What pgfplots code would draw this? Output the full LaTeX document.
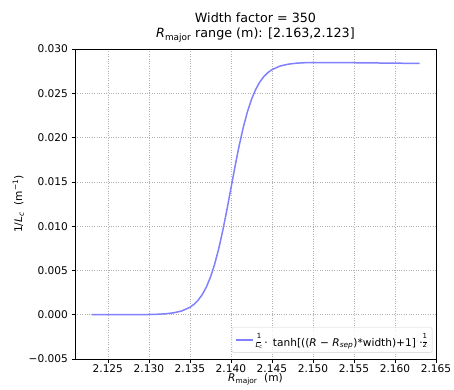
\documentclass[border=0pt]{standalone}
\usepackage{pgfplots}
\pgfplotsset{compat=1.18}
\usepackage{fontspec}
\setmainfont{DejaVu Sans}
\definecolor{curve}{RGB}{128,128,255}
\newcommand{\sfrac}[2]{\raisebox{0.55ex}{\scriptsize\begin{tabular}{@{}c@{}}#1\\[-3.2pt]\rule{0.55em}{0.4pt}\\[-3.4pt]#2\end{tabular}}}
\begin{document}
\begin{tikzpicture}
\begin{axis}[
  scale only axis,
  width=361pt, height=310pt,
  xmin=2.121, xmax=2.165,
  ymin=-0.005, ymax=0.030,
  xtick={2.125,2.130,2.135,2.140,2.145,2.150,2.155,2.160,2.165},
  xticklabels={2.125,2.130,2.135,2.140,2.145,2.150,2.155,2.160,2.165},
  ytick={-0.005,0,0.005,0.010,0.015,0.020,0.025,0.030},
  yticklabels={−0.005,0.000,0.005,0.010,0.015,0.020,0.025,0.030},
  scaled ticks=false,
  tick pos=left,
  tick align=outside,
  major tick length=3.5pt,
  tick style={black, line width=0.6pt},
  axis line style={black, line width=0.8pt},
  ticklabel style={font=\fontsize{10.6}{12}\selectfont},
  xticklabel style={yshift=1pt},
  grid=major,
  major grid style={gray!60, dotted, line width=0.6pt},
  title style={align=center, font=\fontsize{12.7}{15}\selectfont, yshift=-3pt},
  title={Width factor = 350\\\textit{R}\textsubscript{major} range (m): [2.163,2.123]},
  xlabel={\textit{R}\textsubscript{major}\ \ (m)},
  ylabel={1/\textit{L}\textsubscript{\textit{c}}\ \ (m\textsuperscript{−1})},
  label style={font=\fontsize{10.6}{12}\selectfont},
  xlabel style={yshift=6pt},
  ylabel style={yshift=-2pt},
  legend style={font=\fontsize{10.6}{12}\selectfont, draw=gray!35, rounded corners=2pt, inner xsep=3pt, inner ysep=3pt, fill=white, fill opacity=0.8, text opacity=1, at={(0.99,0.02)}, anchor=south east},
  legend cell align=left,
]
\addplot[curve, line width=1.5pt] coordinates {
(2.123,0.0000002) (2.125,0.0000011) (2.127,0.0000032) (2.128,0.0000065) (2.129,0.0000130) (2.130,0.0000260)
(2.131,0.0000524) (2.132,0.000105) (2.133,0.000210) (2.134,0.000421) (2.135,0.000835)
(2.1355,0.001170) (2.136,0.001633) (2.1365,0.002263) (2.137,0.003108) (2.1375,0.004218)
(2.138,0.005638) (2.1385,0.007387) (2.139,0.009455) (2.1395,0.01178) (2.140,0.01425)
(2.1405,0.01672) (2.141,0.01904) (2.1415,0.02111) (2.142,0.02286) (2.1425,0.02428)
(2.143,0.02539) (2.1435,0.02624) (2.144,0.02687) (2.1445,0.02733) (2.145,0.02766)
(2.146,0.02808) (2.147,0.02829) (2.148,0.02840) (2.149,0.02845) (2.150,0.02847)
(2.152,0.02847) (2.154,0.02846) (2.156,0.02844) (2.158,0.02842) (2.160,0.02840) (2.162,0.02838) (2.163,0.02837)
};
\addlegendentry{\sfrac{1}{\textit{L}\textsubscript{\textit{c}}}\,·\, tanh[((\textit{R} − \textit{R}\textsubscript{\textit{sep}})*width)+1]\ ·\sfrac{1}{2}}
\end{axis}
\pgfresetboundingbox
\useasboundingbox ([xshift=-75pt,yshift=-30pt]current axis.south west) rectangle ([xshift=18pt,yshift=49pt]current axis.north east);
\end{tikzpicture}
\end{document}
